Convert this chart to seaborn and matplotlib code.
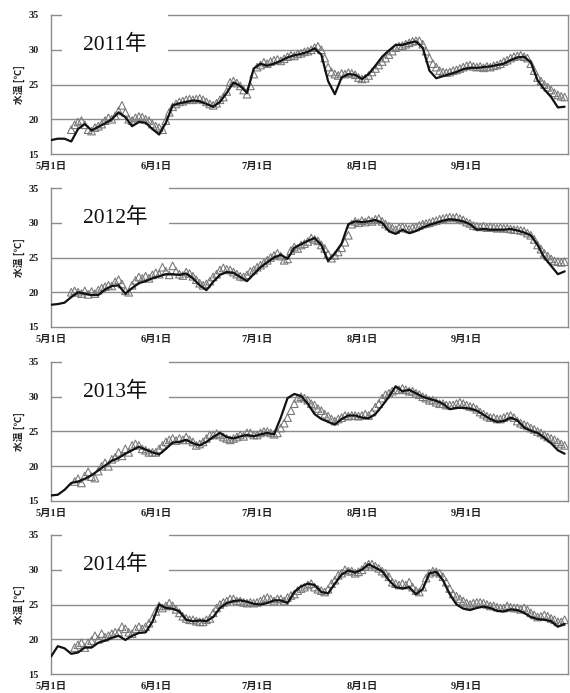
import numpy as np
import pandas as pd
import matplotlib
matplotlib.use("Agg")
import matplotlib.pyplot as plt
import seaborn as sns

# ---------------- data ----------------
years = ["2011年", "2012年", "2013年", "2014年"]
tick_days = [0, 31, 61, 92, 123]
tick_labels = ["5月1日", "6月1日", "7月1日", "8月1日", "9月1日"]
y_ticks = [15, 20, 25, 30, 35]

# observed water temperature (black line), every 2 days from May 1
obs_2011 = [17.0, 17.2, 17.2, 16.8, 18.6, 19.3, 18.4, 18.9, 19.4, 20.0,
            21.0, 20.3, 19.0, 19.6, 19.5, 18.6, 17.8, 19.5, 22.0, 22.3,
            22.5, 22.7, 22.6, 22.2, 21.8, 22.5, 23.8, 25.3, 24.8, 23.8,
            27.3, 28.0, 27.7, 28.0, 28.4, 28.9, 29.2, 29.4, 29.7, 30.2,
            29.3, 25.5, 23.6, 26.0, 26.5, 26.4, 25.8, 26.5, 27.7, 29.0,
            29.9, 30.7, 30.7, 31.0, 31.2, 30.3, 27.0, 25.9, 26.2, 26.5,
            26.8, 27.2, 27.4, 27.4, 27.5, 27.6, 27.8, 28.0, 28.5, 28.9,
            29.0, 28.2, 25.6, 24.3, 23.2, 21.7, 21.8]
obs_2012 = [18.2, 18.3, 18.5, 19.3, 20.0, 19.8, 19.6, 19.6, 20.4, 20.9,
            21.0, 19.8, 20.6, 21.3, 21.6, 22.0, 22.3, 22.6, 22.6, 22.5,
            22.7, 22.0, 21.0, 20.3, 21.5, 22.5, 22.9, 22.8, 22.2, 21.6,
            22.6, 23.6, 24.3, 25.0, 25.4, 24.8, 26.4, 26.9, 27.4, 27.8,
            26.8, 24.5, 25.6, 27.0, 29.8, 30.2, 30.1, 30.2, 30.4, 30.0,
            28.8, 28.4, 29.0, 28.5, 28.8, 29.3, 29.7, 30.0, 30.3, 30.5,
            30.4, 30.2, 29.8, 29.0, 29.1, 29.0, 29.0, 29.0, 29.1, 28.9,
            28.6, 28.2, 26.8, 25.0, 23.8, 22.6, 23.0]
obs_2013 = [15.8, 15.9, 16.6, 17.6, 17.8, 18.2, 18.7, 19.4, 20.1, 20.8,
            21.2, 21.8, 22.3, 22.8, 22.4, 22.0, 21.7, 22.5, 23.4, 23.5,
            23.8, 23.3, 23.0, 23.5, 24.2, 24.8, 24.2, 24.0, 24.3, 24.5,
            24.3, 24.6, 24.8, 24.6, 27.0, 29.8, 30.4, 30.1, 29.0, 27.5,
            26.8, 26.4, 26.0, 26.8, 27.3, 27.3, 27.0, 26.9, 27.5, 28.7,
            30.0, 31.5, 30.8, 31.0, 30.5, 30.0, 29.7, 29.4, 29.0, 28.2,
            28.4, 28.4, 28.3, 28.0, 27.4, 26.8, 26.4, 26.5, 27.0, 26.6,
            25.6, 25.1, 24.8, 24.1, 23.3, 22.3, 21.8]
obs_2014 = [17.5, 19.0, 18.7, 17.9, 18.1, 18.8, 18.8, 19.5, 19.8, 20.2,
            20.5, 19.9, 20.5, 20.9, 21.0, 22.5, 25.0, 24.5, 24.4, 24.0,
            22.8, 22.6, 22.7, 22.6, 23.2, 24.5, 25.2, 25.5, 25.6, 25.4,
            25.1, 25.0, 25.2, 25.6, 25.6, 25.2, 26.8, 27.6, 28.0, 27.8,
            26.8, 26.6, 28.0, 29.3, 29.9, 29.6, 30.0, 30.8, 30.3, 29.8,
            28.5, 27.5, 27.3, 27.5, 26.5, 27.2, 29.5, 29.7, 28.5, 26.5,
            25.0, 24.4, 24.2, 24.5, 24.7, 24.5, 24.1, 24.0, 24.3, 24.2,
            23.8, 23.2, 22.9, 22.8, 22.6, 21.8, 22.2]

# simulated water temperature (triangles), daily from start day
sim_start = [6, 6, 7, 7]
sim_2011 = [18.5, 19.2, 19.6, 19.8, 19.2, 18.5, 18.3, 18.8, 19.0, 19.3,
            19.8, 20.2, 20.0, 20.5, 21.2, 22.0, 21.0, 20.0, 19.8, 20.2,
            20.4, 20.3, 20.0, 19.8, 19.3, 19.0, 18.8, 18.5, 19.8, 21.0,
            21.8, 22.2, 22.5, 22.6, 22.8, 22.9, 22.8, 22.9, 23.0, 22.8,
            22.5, 22.2, 22.0, 22.3, 22.8, 23.2, 24.0, 25.3, 25.5, 25.2,
            24.8, 24.2, 23.6, 24.8, 26.5, 27.5, 27.8, 28.2, 28.0, 28.3,
            28.5, 28.6, 28.4, 28.7, 29.0, 29.2, 29.1, 29.4, 29.5, 29.7,
            29.8, 30.0, 30.3, 30.5, 30.0, 28.8, 27.5, 26.8, 26.5, 26.3,
            26.6, 26.5, 26.7, 26.6, 26.4, 26.0, 25.8, 25.9, 26.3, 26.8,
            27.3, 27.8, 28.3, 28.8, 29.3, 29.8, 30.3, 30.5, 30.6, 30.8,
            31.0, 31.2, 31.3, 31.3, 30.8, 29.8, 28.8, 28.0, 27.5, 27.0,
            26.8, 26.7, 26.8, 27.0, 27.1, 27.3, 27.5, 27.7, 27.8, 27.6,
            27.5, 27.6, 27.4, 27.6, 27.5, 27.7, 27.8, 28.0, 28.3, 28.5,
            28.8, 29.0, 29.1, 29.2, 29.0, 28.8, 28.0, 27.0, 26.0, 25.5,
            25.0, 24.6, 24.2, 23.8, 23.5, 23.3, 23.2]
sim_2012 = [20.0, 20.2, 20.0, 19.8, 20.2, 19.7, 20.1, 19.8, 20.3, 20.6,
            20.8, 21.0, 20.9, 21.5, 21.8, 21.2, 20.2, 20.0, 21.0, 21.7,
            22.2, 22.0, 22.3, 22.0, 22.5, 22.8, 22.6, 23.6, 23.0, 22.5,
            23.8, 23.0, 22.6, 22.4, 22.9, 22.7, 22.3, 21.8, 21.3, 21.0,
            21.2, 21.6, 22.2, 22.6, 23.2, 23.5, 23.3, 23.2, 22.9, 22.6,
            22.3, 22.2, 22.5, 23.0, 23.2, 23.6, 23.9, 24.2, 24.6, 25.0,
            25.3, 25.6, 25.2, 24.6, 24.8, 26.0, 26.5, 26.3, 26.8, 27.0,
            27.3, 27.8, 27.6, 27.4, 26.8, 26.3, 25.5, 24.9, 25.3, 25.8,
            26.4, 27.2, 28.2, 29.8, 30.2, 30.0, 30.3, 30.1, 30.4, 30.2,
            30.5, 30.6, 30.2, 29.8, 29.5, 29.2, 29.0, 29.3, 29.4, 29.2,
            29.1, 29.3, 29.4, 29.6, 29.8, 29.9, 30.0, 30.2, 30.3, 30.5,
            30.6, 30.7, 30.8, 30.7, 30.8, 30.6, 30.4, 30.1, 29.9, 29.6,
            29.5, 29.4, 29.5, 29.3, 29.4, 29.3, 29.2, 29.3, 29.2, 29.2,
            29.1, 29.0, 29.0, 28.9, 28.8, 28.5, 28.2, 27.6, 26.8, 26.2,
            25.6, 25.2, 24.8, 24.5, 24.4, 24.3, 24.4]
sim_2013 = [17.8, 18.2, 17.6, 18.6, 19.2, 18.5, 18.3, 19.3, 20.0, 20.5,
            20.0, 21.0, 21.3, 22.0, 21.5, 22.5, 22.0, 23.0, 23.2, 23.0,
            22.5, 22.3, 22.0, 22.0, 22.0, 22.5, 23.0, 23.5, 23.8, 24.0,
            23.7, 24.0, 23.8, 24.2, 23.8, 23.5, 23.0, 23.2, 23.5, 24.0,
            24.5, 24.5, 24.7, 24.5, 24.2, 24.0, 23.8, 24.0, 24.2, 24.5,
            24.3, 24.8, 24.8, 24.5, 24.5, 24.8, 25.0, 25.0, 24.8, 24.6,
            24.8, 25.5, 26.2, 27.0, 28.0, 29.0, 29.8, 30.0, 29.8, 29.5,
            29.0, 28.8, 28.3, 28.0, 27.5, 27.2, 26.8, 26.5, 26.8, 27.0,
            27.3, 27.2, 27.3, 27.3, 27.2, 27.3, 27.5, 27.3, 27.8, 28.5,
            29.0, 29.8, 30.3, 30.5, 30.8, 31.0, 31.0, 31.2, 31.0, 30.8,
            30.8, 30.5, 30.3, 30.0, 29.8, 29.5, 29.5, 29.2, 29.0, 29.0,
            28.8, 28.8, 28.8, 29.0, 29.2, 29.0, 28.8, 28.6, 28.5, 28.2,
            27.8, 27.5, 27.2, 27.0, 27.0, 26.8, 26.8, 27.0, 27.2, 27.3,
            27.0, 26.5, 26.2, 26.0, 25.8, 25.5, 25.3, 25.0, 24.8, 24.5,
            24.2, 24.0, 23.8, 23.5, 23.2, 23.0]
sim_2014 = [18.8, 19.2, 19.5, 18.8, 19.5, 19.8, 20.5, 20.0, 20.8, 20.3,
            20.5, 20.8, 21.0, 21.0, 21.8, 21.5, 21.0, 20.8, 21.5, 21.8,
            21.5, 21.8, 22.3, 23.0, 24.0, 24.8, 24.5, 24.8, 25.2, 24.8,
            24.3, 23.8, 23.3, 23.0, 22.8, 22.8, 22.6, 22.5, 22.5, 22.8,
            23.0, 23.8, 24.5, 25.0, 25.3, 25.5, 25.8, 25.8, 25.5, 25.5,
            25.3, 25.2, 25.3, 25.2, 25.3, 25.5, 25.8, 26.0, 25.8, 25.5,
            25.8, 25.8, 25.5, 26.0, 26.3, 26.5, 27.0, 27.3, 27.5, 27.8,
            28.0, 27.5, 27.2, 27.0, 26.8, 27.2, 28.0, 28.5, 29.2, 29.5,
            30.0, 29.8, 29.8, 29.5, 29.7, 30.0, 30.5, 30.8, 30.8, 30.5,
            30.2, 29.8, 29.5, 29.0, 28.2, 28.0, 27.8, 28.0, 27.8, 28.2,
            27.5, 27.0, 26.8, 27.5, 28.8, 29.5, 29.8, 29.7, 29.5, 29.0,
            28.2, 27.3, 26.5, 26.2, 25.8, 25.5, 25.2, 25.0, 25.2, 25.3,
            25.3, 25.2, 25.0, 24.8, 24.8, 24.6, 24.5, 24.5, 24.8, 24.6,
            24.5, 24.5, 24.3, 24.5, 24.2, 23.8, 23.5, 23.2, 23.3, 23.5,
            23.3, 23.0, 22.8, 22.5, 22.5, 22.8]

obs_all = [obs_2011, obs_2012, obs_2013, obs_2014]
sim_all = [sim_2011, sim_2012, sim_2013, sim_2014]

# ---------------- style ----------------
sns.set_theme(style="white")
serif = ["Liberation Serif", "Noto Sans CJK JP", "DejaVu Sans"]
cjk = ["Noto Sans CJK JP", "DejaVu Sans"]
plt.rcParams["font.family"] = serif

fig = plt.figure(figsize=(5.70, 6.93), dpi=100)
tops_px = [15, 188, 362, 535]
height_px = 139
W, H = 570, 693
left_px, right_px = 51, 568

grid_col = "#8c8c8c"
for i in range(4):
    top = tops_px[i]
    ax = fig.add_axes([left_px / W, 1 - (top + height_px) / H,
                       (right_px - left_px) / W, height_px / H])
    obs_df = pd.DataFrame({"day": np.arange(0, 2 * len(obs_all[i]), 2),
                           "temp": obs_all[i]})
    sim_df = pd.DataFrame({"day": np.arange(sim_start[i], sim_start[i] + len(sim_all[i])),
                           "temp": sim_all[i]})
    sns.scatterplot(data=sim_df, x="day", y="temp", ax=ax, marker="^", s=30,
                    facecolors="none", edgecolor="#7a7a7a", linewidth=0.8,
                    zorder=3, legend=False)
    sns.lineplot(data=obs_df, x="day", y="temp", ax=ax, color="#111111",
                 linewidth=1.6, zorder=4, legend=False)

    ax.set_xlim(0, 153)
    ax.set_ylim(15, 35)
    ax.set_yticks(y_ticks)
    ax.set_yticklabels([str(v) for v in y_ticks])
    ax.set_xticks(tick_days)
    ax.set_xticklabels(tick_labels)
    for lab in ax.get_xticklabels():
        lab.set_fontfamily(serif)
        lab.set_fontweight("bold")
        lab.set_fontsize(7.5)
    for lab in ax.get_yticklabels():
        lab.set_fontfamily(serif)
        lab.set_fontweight("bold")
        lab.set_fontsize(7.5)
    ax.tick_params(axis="both", length=0, colors="#222222")
    ax.tick_params(axis="y", pad=9)
    ax.tick_params(axis="x", pad=6)
    ax.set_axisbelow(True)
    ax.grid(False)
    for v in [20, 25, 30]:
        ax.axhline(v, color=grid_col, linewidth=1.0, zorder=1)
    for sp in ax.spines.values():
        sp.set_color(grid_col)
        sp.set_linewidth(1.0)
    ax.set_xlabel("")
    ax.set_ylabel("水温 [℃]", family=cjk, fontsize=7, fontweight="bold",
                  color="#222222")
    ax.yaxis.set_label_coords(-0.050, 0.5)
    ax.text(0.062, 0.786, years[i], transform=ax.transAxes, fontsize=15.5,
            family=serif, va="center", ha="left", color="#111111", zorder=5,
            bbox=dict(boxstyle="square,pad=1.0", fc="white", ec="none"))

fig.savefig("out.png", dpi=100)
